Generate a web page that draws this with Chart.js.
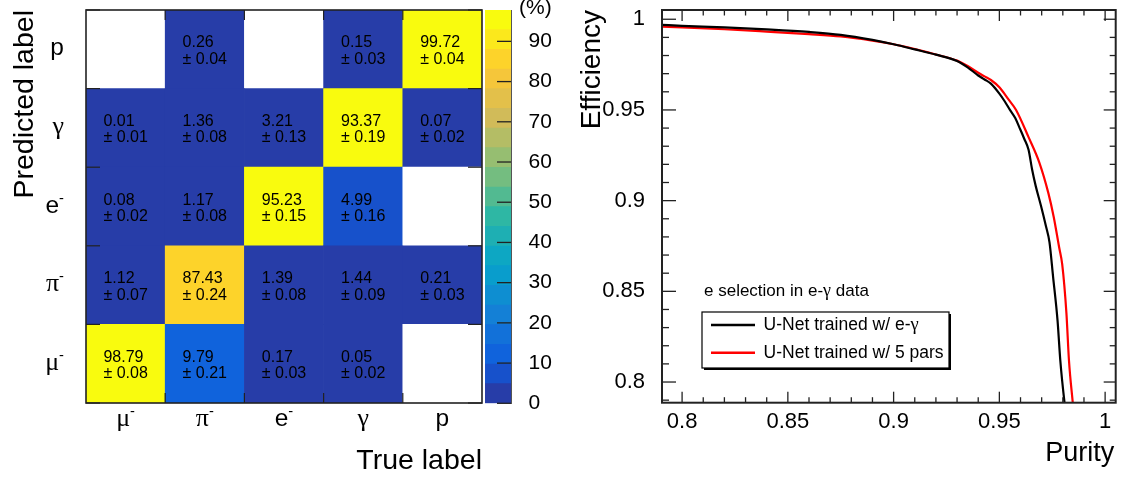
<!DOCTYPE html>
<html>
<head>
<meta charset="utf-8">
<title>Particle identification performance</title>
<script src="https://cdn.jsdelivr.net/npm/chart.js@4.4.1/dist/chart.umd.min.js"></script>
<style>
  html, body { margin: 0; padding: 0; background: #fff; }
  #wrap { position: relative; width: 1125px; height: 477px; overflow: hidden; }
  canvas { position: absolute; top: 0; }
</style>
</head>
<body>
<div id="wrap">
  <canvas id="matrixChart" width="484" height="477" style="left:0"></canvas>
  <canvas id="paletteChart" width="80" height="477" style="left:480px"></canvas>
  <canvas id="rocChart" width="565" height="477" style="left:560px"></canvas>
</div>
<script>
// ---- confusion matrix (%), one array per predicted label, columns = true label ----
const trueLabels = ['μ⁻', 'π⁻', 'e⁻', 'γ', 'p'];
const predLabels = ['μ⁻', 'π⁻', 'e⁻', 'γ', 'p'];   // bottom to top

const fracMu    = [98.79, 9.79, 0.17, 0.05, null];
const fracPi    = [1.12, 87.43, 1.39, 1.44, 0.21];
const fracE     = [0.08, 1.17, 95.23, 4.99, null];
const fracGamma = [0.01, 1.36, 3.21, 93.37, 0.07];
const fracP     = [null, 0.26, null, 0.15, 99.72];

const errMu    = [0.08, 0.21, 0.03, 0.02, null];
const errPi    = [0.07, 0.24, 0.08, 0.09, 0.03];
const errE     = [0.02, 0.08, 0.15, 0.16, null];
const errGamma = [0.01, 0.08, 0.13, 0.19, 0.02];
const errP     = [null, 0.04, null, 0.03, 0.04];

// z axis of the colour palette
const zMax = 97.8;
const nContours = 20;
const paletteTicks = [0, 10, 20, 30, 40, 50, 60, 70, 80, 90];

// ---- efficiency vs purity for e selection in e-gamma data ----
const purityTicks = [0.8, 0.85, 0.9, 0.95, 1];
const effTicks = [0.8, 0.85, 0.9, 0.95, 1];

const purityEG = [0.7905, 0.80, 0.82, 0.84, 0.86, 0.875, 0.89, 0.90, 0.91, 0.92, 0.93, 0.935, 0.94, 0.943, 0.946, 0.95,
                  0.9525, 0.955, 0.9575, 0.9596, 0.9618, 0.9638, 0.9655, 0.9672, 0.9697, 0.972, 0.9737, 0.9754, 0.9775,
                  0.9788, 0.9808, 0.9812];
const effEG    = [0.9969, 0.9964, 0.9955, 0.9944, 0.9930, 0.9914, 0.9886, 0.9862, 0.9834, 0.9805, 0.9770, 0.9735, 0.9690, 0.9668, 0.9645, 0.9590,
                  0.9548, 0.9500, 0.9455, 0.940, 0.934, 0.928, 0.917, 0.908, 0.897, 0.886, 0.877, 0.858, 0.834,
                  0.812, 0.7886, 0.785];

const purity5 = [0.7905, 0.80, 0.82, 0.84, 0.86, 0.875, 0.89, 0.90, 0.91, 0.92, 0.93, 0.935, 0.94, 0.943, 0.946, 0.95,
                 0.9545, 0.9579, 0.9638, 0.9689, 0.9732, 0.9757, 0.9783, 0.9797, 0.9817, 0.9829, 0.9847, 0.9850];
const eff5    = [0.9959, 0.9955, 0.9945, 0.9932, 0.9918, 0.9905, 0.9882, 0.9862, 0.9836, 0.9806, 0.9772, 0.9742, 0.9705, 0.9685, 0.9665, 0.9625,
                 0.9555, 0.950, 0.935, 0.921, 0.904, 0.891, 0.874, 0.865, 0.838, 0.812, 0.7886, 0.785];

const fracRows = [fracMu, fracPi, fracE, fracGamma, fracP];
const errRows = [errMu, errPi, errE, errGamma, errP];

Chart.defaults.font.family = '"Liberation Sans", Arial, sans-serif';
Chart.defaults.color = '#000';

// "bird" palette
const birdStops = [0.0, 0.125, 0.25, 0.375, 0.5, 0.625, 0.75, 0.875, 1.0];
const birdR = [0.2082, 0.0592, 0.0780, 0.0232, 0.1802, 0.5301, 0.8186, 0.9956, 0.9764];
const birdG = [0.1664, 0.3599, 0.5041, 0.6419, 0.7178, 0.7492, 0.7328, 0.7862, 0.9832];
const birdB = [0.5293, 0.8684, 0.8385, 0.7914, 0.6425, 0.4662, 0.3499, 0.1968, 0.0539];

function bird(f) {
    let k = 0;
    while (k < birdStops.length - 2 && f > birdStops[k + 1]) k++;
    const t = (f - birdStops[k]) / (birdStops[k + 1] - birdStops[k]);
    const mix = arr => Math.round(255 * (arr[k] + (arr[k + 1] - arr[k]) * t));
    return `rgb(${mix(birdR)},${mix(birdG)},${mix(birdB)})`;
}

function bandColor(band) {
    const idx = Math.floor((band + 0.99) * 255 / nContours);
    return bird(Math.min(idx, 254) / 254);
}

function contourColor(v) {
    const band = Math.min(Math.floor(v / (zMax / nContours)), nContours - 1);
    return bandColor(band);
}

// axes get a fixed size and no extra room for overhanging labels
function fixAxis(width, height) {
    return scale => {
        if (width !== null) scale.width = width;
        if (height !== null) scale.height = height;
        scale.paddingTop = 0;
        scale.paddingBottom = 0;
        scale.paddingLeft = 0;
        scale.paddingRight = 0;
    };
}

// text with greek letters in a serif face and "⁻" as a raised small minus
function textRuns(text) {
    const runs = [];
    for (const ch of text) {
        const kind = /[\u0370-\u03ff]/.test(ch) ? 'greek' : (ch === '⁻' ? 'sup' : 'latin');
        const last = runs[runs.length - 1];
        if (last && last.kind === kind) last.text += ch;
        else runs.push({ kind: kind, text: ch });
    }
    return runs;
}

function runFont(kind, size) {
    if (kind === 'greek') return (size * 1.06) + 'px "Liberation Serif", serif';
    if (kind === 'sup') return (size * 0.6) + 'px "Liberation Sans", Arial, sans-serif';
    return size + 'px "Liberation Sans", Arial, sans-serif';
}

function drawRich(ctx, text, x, y, size, align) {
    const runs = textRuns(text);
    let total = 0;
    runs.forEach(r => {
        r.str = r.kind === 'sup' ? '-'.repeat(r.text.length) : r.text;
        ctx.font = runFont(r.kind, size);
        r.w = ctx.measureText(r.str).width;
        total += r.w;
    });
    let cx = align === 'right' ? x - total : (align === 'center' ? x - total / 2 : x);
    ctx.textAlign = 'left';
    ctx.textBaseline = 'alphabetic';
    runs.forEach(r => {
        ctx.font = runFont(r.kind, size);
        ctx.fillText(r.str, cx, r.kind === 'sup' ? y - size * 0.4 : y);
        cx += r.w;
    });
}

function tickLine(ctx, x1, y1, x2, y2) {
    ctx.beginPath();
    ctx.moveTo(x1, y1);
    ctx.lineTo(x2, y2);
    ctx.stroke();
}

// cell texts, frame, ticks and labels of the matrix
const matrixDecor = {
    id: 'matrixDecor',
    afterDatasetsDraw(chart) {
        const ctx = chart.ctx;
        const area = chart.chartArea;
        const xs = chart.scales.x, ys = chart.scales.y;
        ctx.save();
        ctx.fillStyle = '#000';

        // value and error in every filled cell
        chart.data.datasets.forEach((ds, r) => {
            chart.getDatasetMeta(r).data.forEach((bar, c) => {
                const v = fracRows[r][c];
                if (v === null) return;
                const line1 = v.toFixed(2);
                const line2 = '± ' + errRows[r][c].toFixed(2);
                ctx.font = '16px "Liberation Sans", Arial, sans-serif';
                const w = Math.max(ctx.measureText(line1).width, ctx.measureText(line2).width);
                const cy = (bar.y + bar.base) / 2;
                ctx.textAlign = 'left';
                ctx.textBaseline = 'alphabetic';
                ctx.fillText(line1, bar.x - w / 2, cy - 2);
                ctx.fillText(line2, bar.x - w / 2, cy + 14.5);
            });
        });

        // frame and ticks at the bin edges
        ctx.strokeStyle = '#222';
        ctx.lineWidth = 1.2;
        for (let k = 1; k < trueLabels.length; k++) {
            const px = xs.getPixelForValue(k - 0.5);
            tickLine(ctx, px, area.bottom, px, area.bottom - 10);
            tickLine(ctx, px, area.top, px, area.top + 10);
        }
        for (let k = 0; k <= predLabels.length; k++) {
            const py = ys.getPixelForValue(k);
            tickLine(ctx, area.left, py, area.left + 14, py);
            tickLine(ctx, area.right, py, area.right - 14, py);
        }
        ctx.lineWidth = 1.6;
        ctx.strokeRect(area.left, area.top, area.right - area.left, area.bottom - area.top);

        // bin labels
        trueLabels.forEach((lab, i) => {
            drawRich(ctx, lab, xs.getPixelForValue(i), 426, 24.5, 'center');
        });
        predLabels.forEach((lab, i) => {
            drawRich(ctx, lab, area.left - 22, ys.getPixelForValue(i + 0.5) + 6, 24.5, 'right');
        });

        // axis titles
        ctx.font = '28.5px "Liberation Sans", Arial, sans-serif';
        ctx.textAlign = 'right';
        ctx.fillText('True label', area.right, 469);
        ctx.save();
        ctx.translate(33, area.top);
        ctx.rotate(-Math.PI / 2);
        ctx.fillText('Predicted label', 0, 0);
        ctx.restore();
        ctx.restore();
    }
};

new Chart(document.getElementById('matrixChart'), {
    type: 'bar',
    data: {
        labels: trueLabels,
        // every predicted label is one stacked row of unit-height cells
        datasets: fracRows.map((row, r) => ({
            label: predLabels[r],
            data: row.map(() => 1),
            backgroundColor: row.map(v => v === null ? '#ffffff' : contourColor(v)),
            borderWidth: 0,
            barPercentage: 1,
            categoryPercentage: 1
        }))
    },
    options: {
        responsive: false,
        animation: false,
        layout: { padding: { left: 0, right: 2, top: 10, bottom: 0 } },
        plugins: {
            legend: { display: false },
            tooltip: { enabled: false }
        },
        scales: {
            x: {
                stacked: true,
                grid: { display: false },
                border: { display: false },
                ticks: { display: false },
                afterFit: fixAxis(null, 74)
            },
            y: {
                stacked: true,
                min: 0,
                max: predLabels.length,
                grid: { display: false },
                border: { display: false },
                ticks: { display: false },
                afterFit: fixAxis(86, null)
            }
        }
    },
    plugins: [matrixDecor]
});

// ---- colour palette axis ----
const paletteDecor = {
    id: 'paletteDecor',
    afterDraw(chart) {
        const ctx = chart.ctx;
        const area = chart.chartArea;
        const ys = chart.scales.y;
        ctx.save();
        ctx.strokeStyle = '#222';
        ctx.lineWidth = 1.3;
        paletteTicks.forEach(v => {
            const py = ys.getPixelForValue(v);
            tickLine(ctx, area.right - 14, py, area.right, py);
        });
        ctx.fillStyle = '#000';
        ctx.font = '21px "Liberation Sans", Arial, sans-serif';
        ctx.textAlign = 'left';
        ctx.textBaseline = 'alphabetic';
        ctx.fillText('(%)', 39, 14);
        ctx.restore();
    }
};

const bandStep = zMax / nContours;
const bandDatasets = [];
for (let b = 0; b < nContours; b++) {
    bandDatasets.push({
        data: [bandStep],
        backgroundColor: bandColor(b),
        borderWidth: 0,
        barPercentage: 1,
        categoryPercentage: 1
    });
}

new Chart(document.getElementById('paletteChart'), {
    type: 'bar',
    data: { labels: ['z'], datasets: bandDatasets },
    options: {
        responsive: false,
        animation: false,
        layout: { padding: { left: 5, right: 0, top: 10, bottom: 73.7 } },
        plugins: {
            legend: { display: false },
            tooltip: { enabled: false }
        },
        scales: {
            x: { stacked: true, display: false },
            y: {
                stacked: true,
                position: 'right',
                min: 0,
                max: zMax,
                grid: { display: false },
                border: { display: true, color: '#555', width: 1 },
                afterBuildTicks: scale => { scale.ticks = paletteTicks.map(v => ({ value: v })); },
                ticks: {
                    padding: 9.5,
                    font: { size: 21 },
                    callback: v => String(v)
                },
                afterFit: fixAxis(49, null)
            }
        }
    },
    plugins: [paletteDecor]
});

// ---- efficiency vs purity ----
const fmtTick = v => String(+v.toFixed(2));

const rocDecor = {
    id: 'rocDecor',
    afterDatasetsDraw(chart) {
        const ctx = chart.ctx;
        const area = chart.chartArea;
        const xs = chart.scales.x, ys = chart.scales.y;
        ctx.save();
        ctx.strokeStyle = '#222';
        ctx.lineWidth = 1.3;

        // inward ticks on all four sides, minor every 0.01
        for (let k = Math.ceil(xs.min * 100); k <= Math.floor(xs.max * 100); k++) {
            const px = xs.getPixelForValue(k / 100);
            const len = k % 5 === 0 ? 11 : 5.5;
            tickLine(ctx, px, area.bottom, px, area.bottom - len);
            tickLine(ctx, px, area.top, px, area.top + len);
        }
        for (let k = Math.ceil(ys.min * 100); k <= Math.floor(ys.max * 100); k++) {
            const py = ys.getPixelForValue(k / 100);
            const major = k % 5 === 0;
            tickLine(ctx, area.left, py, area.left + (major ? 14 : 7), py);
            tickLine(ctx, area.right, py, area.right - (major ? 12 : 6), py);
        }
        ctx.lineWidth = 2;
        ctx.strokeRect(area.left, area.top, area.right - area.left, area.bottom - area.top);

        // purity labels under the frame
        ctx.fillStyle = '#000';
        ctx.font = '22px "Liberation Sans", Arial, sans-serif';
        ctx.textAlign = 'center';
        ctx.textBaseline = 'alphabetic';
        purityTicks.forEach(v => {
            ctx.fillText(fmtTick(v), xs.getPixelForValue(v), 428);
        });

        // caption and legend box
        drawRich(ctx, 'e selection in e-γ data', 144, 296, 17, 'left');

        const box = { x: 142, y: 312, w: 247, h: 56 };
        ctx.fillStyle = '#000';
        ctx.fillRect(box.x + 2, box.y + box.h, box.w, 2);
        ctx.fillRect(box.x + box.w, box.y + 2, 2, box.h);
        ctx.fillStyle = '#fff';
        ctx.fillRect(box.x, box.y, box.w, box.h);
        ctx.lineWidth = 1.2;
        ctx.strokeStyle = '#000';
        ctx.strokeRect(box.x, box.y, box.w, box.h);

        chart.data.datasets.forEach((ds, i) => {
            const ly = 325 + i * 27.7;
            ctx.strokeStyle = ds.borderColor;
            ctx.lineWidth = 2.5;
            tickLine(ctx, 151, ly, 195, ly);
            ctx.fillStyle = '#000';
            drawRich(ctx, ds.label, 203.6, ly + 5, 17.5, 'left');
        });

        // axis titles
        ctx.fillStyle = '#000';
        ctx.font = '27px "Liberation Sans", Arial, sans-serif';
        ctx.textAlign = 'right';
        ctx.textBaseline = 'alphabetic';
        ctx.fillText('Purity', area.right - 1.5, 461);
        ctx.save();
        ctx.translate(40, area.top);
        ctx.rotate(-Math.PI / 2);
        ctx.font = '28px "Liberation Sans", Arial, sans-serif';
        ctx.fillText('Efficiency', 0, 0);
        ctx.restore();
        ctx.restore();
    }
};

new Chart(document.getElementById('rocChart'), {
    type: 'scatter',
    data: {
        datasets: [
            {
                label: 'U-Net trained w/ e-γ',
                data: purityEG.map((p, i) => ({ x: p, y: effEG[i] })),
                borderColor: '#000000',
                borderWidth: 2.2
            },
            {
                label: 'U-Net trained w/ 5 pars',
                data: purity5.map((p, i) => ({ x: p, y: eff5[i] })),
                borderColor: '#ff0000',
                borderWidth: 2.2
            }
        ]
    },
    options: {
        responsive: false,
        animation: false,
        showLine: true,
        elements: { point: { radius: 0 }, line: { cubicInterpolationMode: 'monotone' } },
        layout: { padding: { left: 0, right: 9.3, top: 10, bottom: 0 } },
        plugins: {
            legend: { display: false },
            tooltip: { enabled: false }
        },
        scales: {
            x: {
                type: 'linear',
                min: 0.7905,
                max: 1.005,
                grid: { display: false },
                border: { display: false },
                ticks: { display: false },
                afterFit: fixAxis(null, 74.3)
            },
            y: {
                type: 'linear',
                min: 0.7886,
                max: 1.0051,
                grid: { display: false },
                border: { display: false },
                afterBuildTicks: scale => { scale.ticks = effTicks.map(v => ({ value: v })); },
                ticks: { padding: 9, font: { size: 22 }, autoSkip: false, callback: fmtTick },
                afterFit: fixAxis(102, null)
            }
        }
    },
    plugins: [rocDecor]
});
</script>
</body>
</html>
